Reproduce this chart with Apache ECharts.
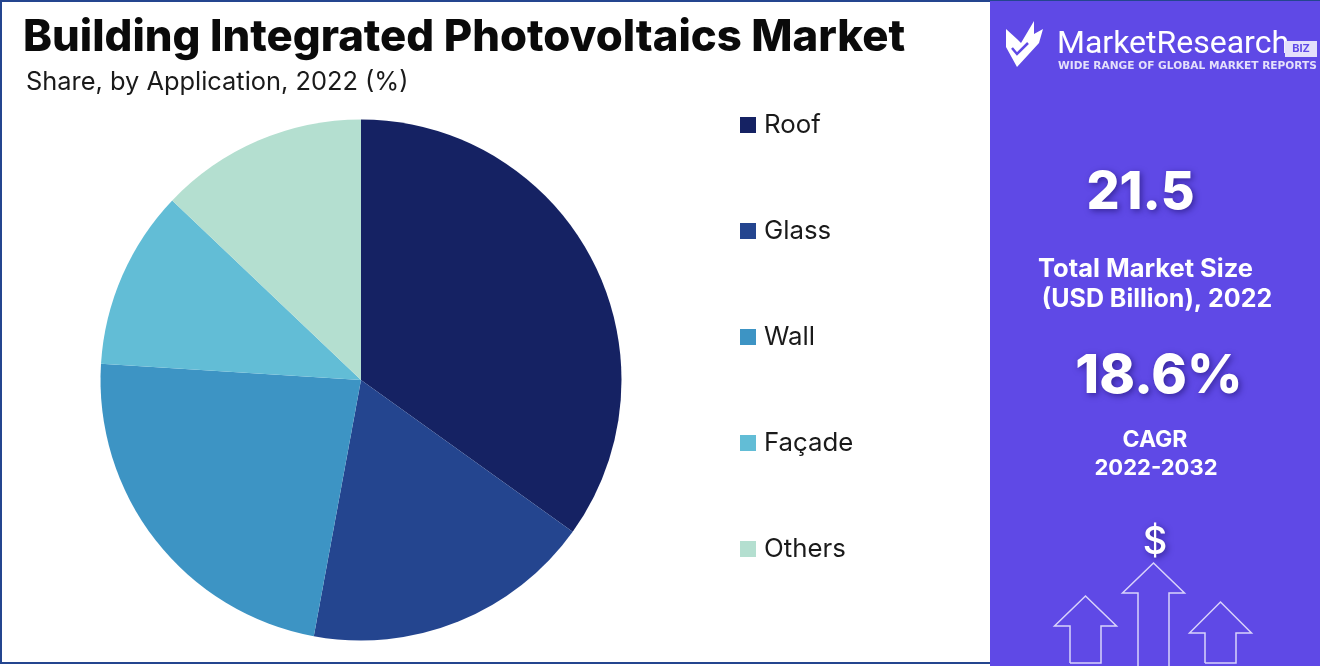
<!DOCTYPE html>
<html>
<head>
<meta charset="utf-8">
<title>Building Integrated Photovoltaics Market</title>
<script src="https://cdn.jsdelivr.net/npm/echarts@6/dist/echarts.min.js"></script>
<style>
  html, body { margin: 0; padding: 0; background: #fff; }
  #chart { width: 1320px; height: 666px; }
</style>
</head>
<body>
<div id="chart"></div>
<script>
let categories = ['Roof', 'Glass', 'Wall', 'Façade', 'Others'];
let shares = [34.9, 18.0, 23.1, 11.1, 12.9];
let colors = ['#152263', '#24458f', '#3d94c4', '#62bdd6', '#b4dfd0'];

let chartTitle = 'Building Integrated Photovoltaics Market';
let chartSubtitle = 'Share, by Application, 2022 (%)';
let marketSize = '21.5';
let marketSizeLabel = ['Total Market Size', '(USD Billion), 2022'];
let cagr = '18.6%';
let cagrLabel = ['CAGR', '2022-2032'];

let panel = '#5f49e6';
let font = 'Inter, "Open Sans", sans-serif';

function sideText(x, y, text, size, weight, shadow) {
    return {
        type: 'text',
        x: x,
        y: y,
        z: 5,
        style: {
            text: text,
            fill: '#fff',
            font: weight + ' ' + size + 'px ' + font,
            align: 'center',
            verticalAlign: 'middle',
            textShadowColor: shadow ? 'rgba(20,10,90,0.55)' : 'transparent',
            textShadowBlur: shadow ? 6 : 0,
            textShadowOffsetX: shadow ? 2 : 0,
            textShadowOffsetY: shadow ? 2 : 0
        }
    };
}

// outline arrows at the bottom of the side panel
function arrow(cx, tipY, shoulderY, bottomY) {
    return {
        type: 'polyline',
        z: 5,
        shape: {
            points: [
                [cx - 15.5, bottomY], [cx - 15.5, shoulderY], [cx - 31, shoulderY], [cx, tipY],
                [cx + 31, shoulderY], [cx + 15.5, shoulderY], [cx + 15.5, bottomY], [cx - 15.5, bottomY]
            ]
        },
        style: { stroke: '#d9d3fb', lineWidth: 1.5, fill: 'none' }
    };
}

let chart = echarts.init(document.getElementById('chart'), null, { renderer: 'canvas' });
chart.setOption({
    animation: false,
    backgroundColor: '#fff',
    color: colors,
    title: [{
        text: chartTitle,
        left: 23,
        top: 16,
        padding: 0,
        textStyle: { fontFamily: font, fontWeight: 800, fontSize: 43.7, color: '#0a0a0a' }
    }, {
        text: chartSubtitle,
        left: 26,
        top: 70,
        padding: 0,
        textStyle: { fontFamily: font, fontWeight: 400, fontSize: 25.4, color: '#1a1a1a' }
    }],
    legend: {
        orient: 'vertical',
        left: 740,
        top: 111,
        padding: 0,
        icon: 'rect',
        itemWidth: 16,
        itemHeight: 16,
        itemGap: 78,
        data: categories,
        textStyle: { fontFamily: font, fontSize: 25.8, color: '#1a1a1a', padding: [0, 0, 0, 3], height: 28, lineHeight: 28 }
    },
    series: [{
        type: 'pie',
        center: [361, 380],
        radius: [0, 260.5],
        startAngle: 90,
        clockwise: true,
        label: { show: false },
        labelLine: { show: false },
        itemStyle: { borderWidth: 0 },
        emphasis: { disabled: true },
        data: categories.map(function (name, i) {
            return { name: name, value: shares[i] };
        })
    }],
    graphic: [
        { type: 'rect', z: -1, shape: { x: 1, y: 1, width: 1318, height: 662 },
          style: { fill: 'none', stroke: '#24458f', lineWidth: 2 } },
        { type: 'rect', z: 1, shape: { x: 990, y: 1, width: 330, height: 665 }, style: { fill: panel } },
        // logo
        { type: 'polygon', z: 5, shape: { points: [[1006, 29], [1017, 39], [1021, 43], [1034, 21], [1034, 34], [1043, 29], [1039, 43], [1017, 67], [1006, 47]] }, style: { fill: '#fff' } },
        { type: 'polyline', z: 6, shape: { points: [[1012, 48], [1017, 54], [1028, 43]] }, style: { stroke: panel, lineWidth: 2.5, fill: 'none' } },
        { type: 'text', x: 1057, y: 45, z: 5, style: { text: 'MarketResearch', fill: '#fff', font: '400 32px Roboto, sans-serif', verticalAlign: 'middle' } },
        { type: 'rect', z: 5, shape: { x: 1285, y: 41, width: 32, height: 16 }, style: { fill: '#e4e0fb' } },
        { type: 'text', x: 1301, y: 49, z: 6, style: { text: 'BIZ', fill: panel, font: '700 11px ' + font, align: 'center', verticalAlign: 'middle' } },
        { type: 'text', x: 1058, y: 66, z: 5, style: { text: 'WIDE RANGE OF GLOBAL MARKET REPORTS', fill: '#e4e0fb', font: '700 10.6px "DejaVu Sans", sans-serif', verticalAlign: 'middle' } },
        // figures
        sideText(1140.5, 193, marketSize, 52, 800, true),
        sideText(1145.5, 269, marketSizeLabel[0], 25.5, 700, false),
        sideText(1157, 299, marketSizeLabel[1], 25, 700, false),
        sideText(1159, 377, cagr, 54, 800, true),
        sideText(1155, 440, cagrLabel[0], 23, 700, false),
        sideText(1156, 468, cagrLabel[1], 22, 700, false),
        sideText(1155, 543, '$', 38, 500, true),
        arrow(1085.5, 596, 626, 663),
        arrow(1153.5, 563, 593, 680),
        arrow(1220.5, 602, 633, 663)
    ]
});
</script>
</body>
</html>
